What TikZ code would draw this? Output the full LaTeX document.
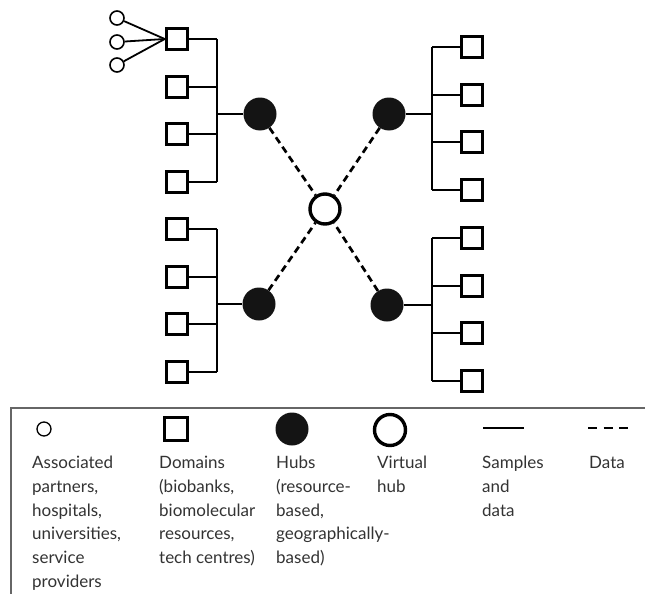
\documentclass[tikz,border=0pt]{standalone}
\usepackage{fontspec}
\setmainfont{Lato}
\definecolor{legtext}{HTML}{333333}
\begin{document}
\begin{tikzpicture}[x=1pt,y=-1pt,
  domainbox/.style={draw=black,line width=3pt,fill=white,rectangle,minimum size=21.5pt,inner sep=0pt},
  hubnode/.style={circle,fill=black!92,draw=none,minimum size=33pt,inner sep=0pt},
  vhubnode/.style={circle,draw=black,line width=3.4pt,fill=white,minimum size=30pt,inner sep=0pt},
  partnernode/.style={circle,draw=black,line width=1.6pt,fill=white,minimum size=14pt,inner sep=0pt},
  connline/.style={draw=black,line width=2.2pt},
  dataline/.style={draw=black,line width=2.7pt,dash pattern=on 7pt off 4.5pt},
  legtxt/.style={anchor=north west,inner sep=0pt,align=left,text=legtext,font=\fontsize{17}{23.7}\selectfont}
  ]
\useasboundingbox (0,0) rectangle (645,594);
\fill[white] (0,0) rectangle (645,594);

% left domains
\foreach \i/\y in {1/39,2/87,3/134,4/182,5/229,6/277,7/324,8/372}
  \node[domainbox] (L\i) at (177,\y) {};
% right domains
\foreach \i/\y in {1/47,2/95,3/142,4/190,5/238,6/286,7/333,8/381}
  \node[domainbox] (R\i) at (472,\y) {};

% bar coordinates
\coordinate (bL) at (217,0);
\coordinate (bR) at (432,0);

% hubs
\node[hubnode] (HLt) at (260,114) {};
\node[hubnode] (HLb) at (259,304) {};
\node[hubnode] (HRt) at (389,114) {};
\node[hubnode] (HRb) at (387,305) {};
\node[vhubnode] (V) at (325,209) {};

% partners
\node[partnernode] (P1) at (117,18) {};
\node[partnernode] (P2) at (117,42) {};
\node[partnernode] (P3) at (117,65) {};
\foreach \p in {P1,P2,P3}
  \draw[connline,line width=1.8pt] (\p) -- (L1.west);

% left bars
\foreach \i in {1,...,8}
  \draw[connline] (L\i.east) -- (L\i.east -| bL);
\draw[connline] (L1.east -| bL) -- (L4.east -| bL);
\draw[connline] (L5.east -| bL) -- (L8.east -| bL);
\draw[connline] (HLt) -- (HLt -| bL);
\draw[connline] (HLb) -- (HLb -| bL);
% right bars
\foreach \i in {1,...,8}
  \draw[connline] (R\i.west) -- (R\i.west -| bR);
\draw[connline] (R1.west -| bR) -- (R4.west -| bR);
\draw[connline] (R5.west -| bR) -- (R8.west -| bR);
\draw[connline] (HRt) -- (HRt -| bR);
\draw[connline] (HRb) -- (HRb -| bR);

% data lines
\foreach \h in {HLt,HLb,HRt,HRb}
  \draw[dataline] (\h) -- (V);

% legend box
\draw[black!60,line width=1.8pt] (11,594) -- (11,408) -- (645,408);

% legend symbols
\node[partnernode,line width=1.3pt,minimum size=14pt] (lgP) at (44,429) {};
\node[domainbox,minimum size=23pt] (lgD) at (176,429) {};
\node[hubnode] (lgH) at (292,429) {};
\node[vhubnode,minimum size=31pt] (lgV) at (390,430) {};
\coordinate (lgS1) at (483,428);
\coordinate (lgS2) at (524,428);
\draw[connline,line width=2.4pt] (lgS1) -- (lgS2);
\coordinate (lgD1) at (588,428);
\coordinate (lgD2) at (628,428);
\draw[black,line width=2.6pt,dash pattern=on 9pt off 6.5pt] (lgD1) -- (lgD2);

% legend texts
\node[legtxt] (tP) at (32,456) {Associated\\partners,\\hospitals,\\universities,\\service\\providers};
\node[legtxt] (tD) at (159,456) {Domains\\(biobanks,\\biomolecular\\resources,\\tech centres)};
\node[legtxt] (tH) at (276,456) {Hubs\\(resource-\\based,\\geographically-\\based)};
\node[legtxt] (tV) at (377,456) {Virtual\\hub};
\node[legtxt] (tS) at (482,456) {Samples\\and\\data};
\node[legtxt] (tA) at (589,456) {Data};
\end{tikzpicture}
\end{document}
